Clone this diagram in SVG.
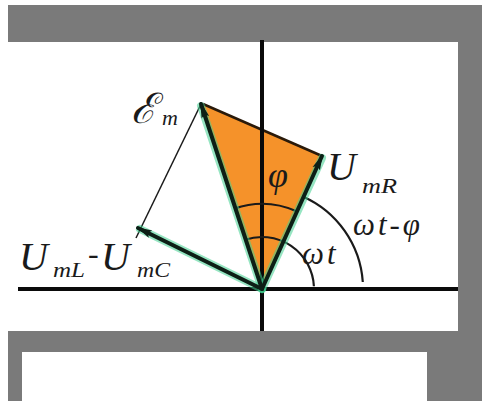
<svg xmlns="http://www.w3.org/2000/svg" width="482" height="401" viewBox="0 0 482 401">
<defs>
<style>
.lbl{font-family:"Liberation Serif","DejaVu Serif",serif;font-style:italic;fill:#1a1a1a}
.vec{stroke:#0d1f16;stroke-width:4;stroke-linecap:round;fill:none}
.glow{stroke:#3fd08f;stroke-width:8;stroke-linecap:round;fill:none;opacity:0.55}
.arc{stroke:#1a1a1a;stroke-width:2.2;fill:none}
.axis{stroke:#0a0a0a;stroke-width:4;fill:none}
</style>
<marker id="ah" viewBox="0 0 16 10" refX="14" refY="5" markerWidth="16" markerHeight="10" markerUnits="userSpaceOnUse" orient="auto">
<path d="M0,1 L16,5 L0,9 L3,5 z" fill="#0d1f16"/>
</marker>
</defs>
<g id="background">
<rect x="0" y="0" width="482" height="401" fill="#ffffff"/>
<rect x="8" y="5" width="474" height="396" fill="#7a7a7a"/>
<rect x="8" y="42" width="450" height="289" fill="#ffffff"/>
<rect x="22" y="352" width="405" height="49" fill="#ffffff"/>
</g>
<g id="triangle">
<polygon points="262,289 201,104 322,156" fill="#f5922a"/>
<line x1="203" y1="104" x2="322" y2="156" stroke="#2a1a0a" stroke-width="2.5"/>
</g>
<g id="axes">
<line class="axis" x1="262" y1="40" x2="262" y2="331"/>
<line class="axis" x1="18" y1="289" x2="458" y2="289"/>
</g>
<g id="arcs">
<path class="arc" d="M234.3,208.6 A85,85 0 0 1 296.6,211.3"/>
<path class="arc" d="M245.1,239.8 A52,52 0 0 1 313.9,286.3"/>
<path class="arc" d="M302.7,196.4 A101,101 0 0 1 362.8,282"/>
</g>
<g id="connectors">
<line x1="136" y1="238" x2="201" y2="104" stroke="#1a1a1a" stroke-width="1.5"/>
<line class="glow" x1="262" y1="289" x2="201" y2="106"/>
<line class="glow" x1="262" y1="289" x2="322" y2="158"/>
<line class="glow" x1="262" y1="289" x2="140" y2="229"/>
<line class="vec" x1="262" y1="289" x2="201" y2="104" marker-end="url(#ah)"/>
<line class="vec" x1="262" y1="289" x2="322" y2="156" marker-end="url(#ah)"/>
<line class="vec" x1="262" y1="289" x2="138" y2="228" marker-end="url(#ah)"/>
</g>
<g id="label-Em">
<text x="131" y="123" font-size="42" style="font-family:'DejaVu Serif','Liberation Serif',serif;font-style:italic;fill:#1a1a1a">ℰ</text>
<text class="lbl" x="162" y="125" font-size="22">m</text>
</g>
<g id="label-UmR">
<text class="lbl" x="327" y="180" font-size="40">U</text>
<text class="lbl" x="362" y="193" font-size="22" textLength="35" lengthAdjust="spacingAndGlyphs">mR</text>
</g>
<g id="label-ULC">
<text class="lbl" x="19" y="270" font-size="40">U</text>
<text class="lbl" x="53" y="277" font-size="22" textLength="32" lengthAdjust="spacingAndGlyphs">mL</text>
<text class="lbl" x="88" y="264" font-size="32">-</text>
<text class="lbl" x="101" y="270" font-size="40">U</text>
<text class="lbl" x="137" y="277" font-size="22" textLength="33" lengthAdjust="spacingAndGlyphs">mC</text>
</g>
<g id="label-phi">
<text class="lbl" x="268" y="187" font-size="36">φ</text>
</g>
<g id="label-wt-phi">
<text class="lbl" x="353" y="235" font-size="31" letter-spacing="3">ωt-φ</text>
</g>
<g id="label-wt">
<text class="lbl" x="302" y="264" font-size="31" letter-spacing="3">ωt</text>
</g>
</svg>
